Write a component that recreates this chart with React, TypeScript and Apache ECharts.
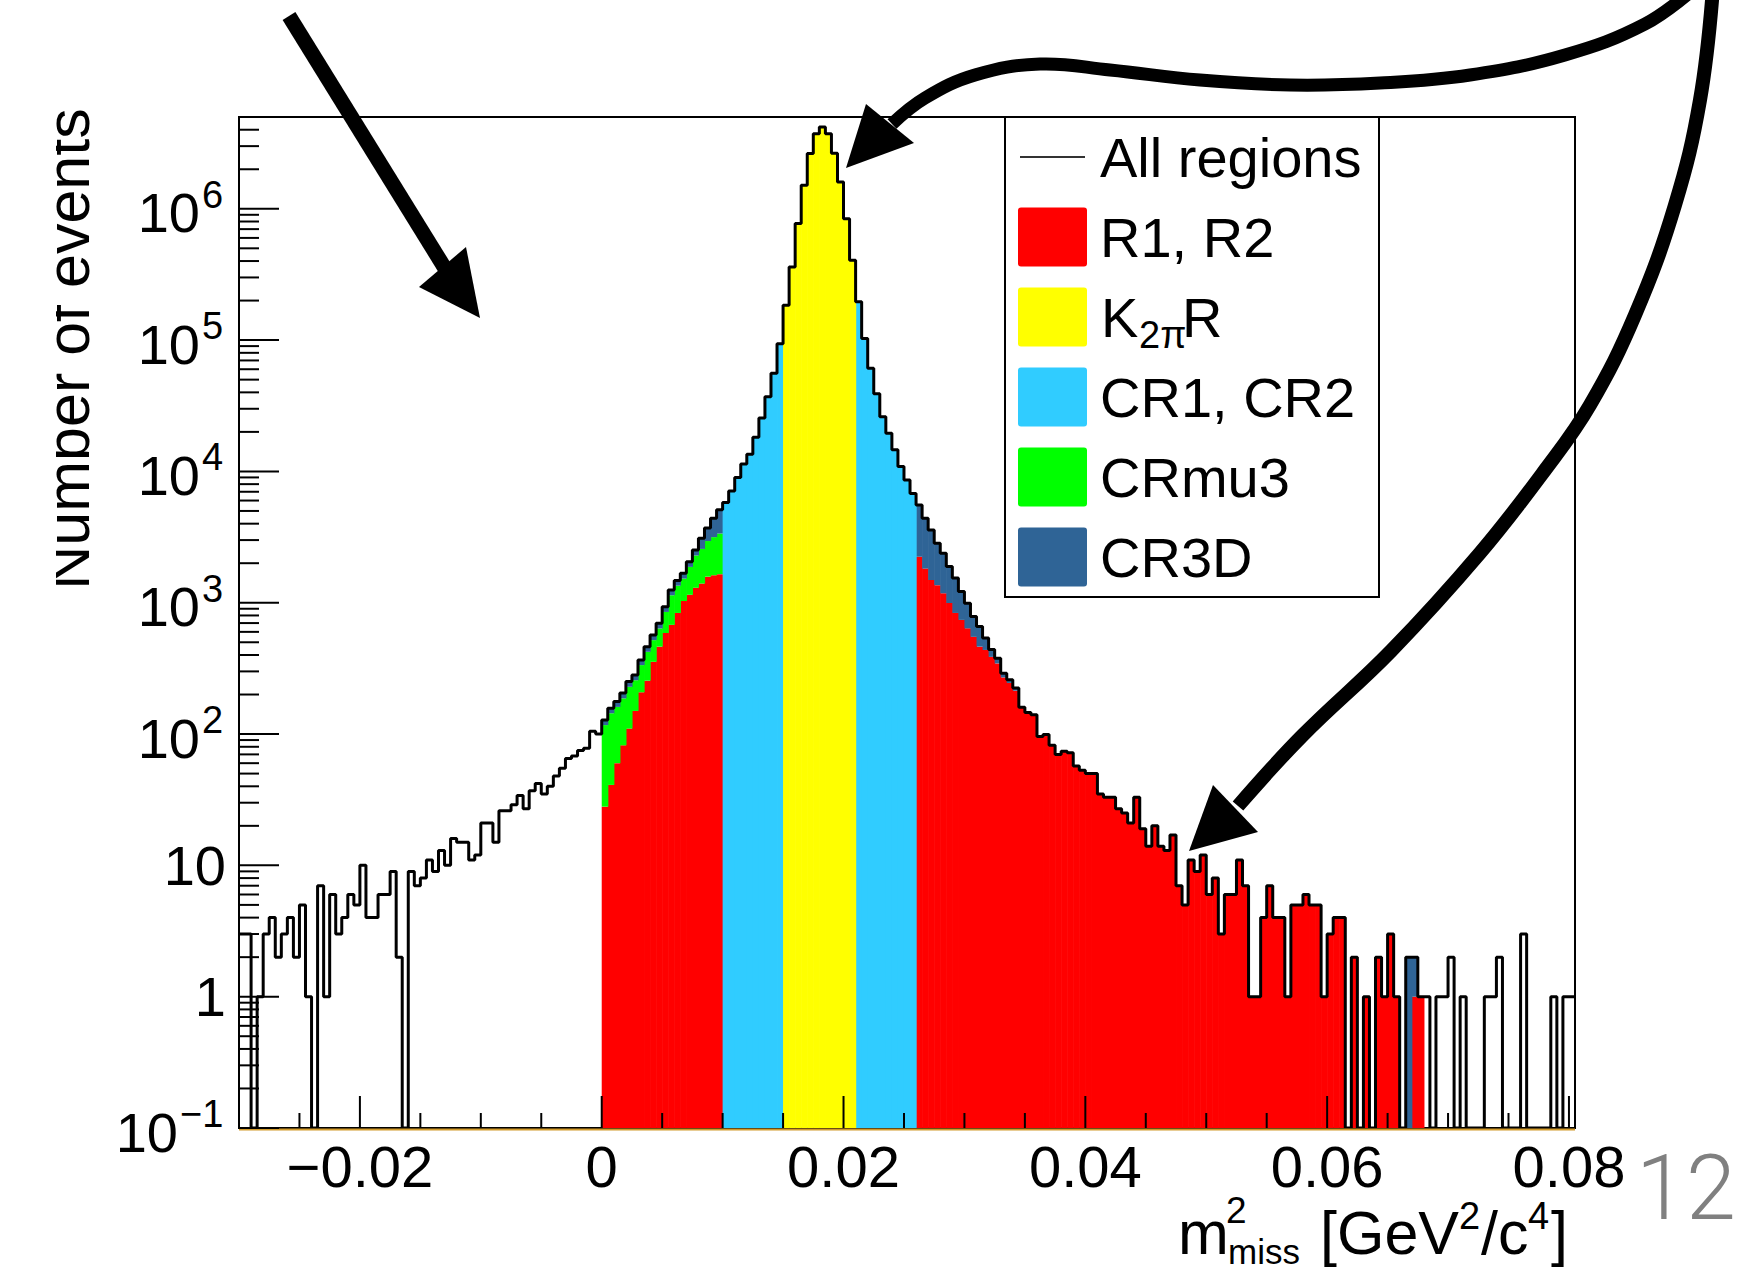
import React, { useEffect, useRef } from "react";
import * as echarts from "echarts";

// ---- axis ranges / binning ----
const X_MIN = -0.03;
const X_MAX = 0.0805;
const BIN_WIDTH = 0.0005;
const Y_MIN = 0.1;
const Y_MAX = 5e6;

// ---- "All regions" histogram (221 bins from -0.03, width 0.0005) ----
const ALL_REGIONS = [
  // -0.030 .. 0.000
  3, 3, 0, 1, 3, 4, 2, 3, 4, 2, 5, 1, 0, 7, 1, 6, 3, 4, 6, 5,
  10, 4, 4, 6, 6, 9, 2, 0, 9, 7, 8, 11, 9, 13, 10, 16, 15, 15, 11, 12,
  21, 21, 15, 26, 26, 29, 34, 27, 37, 42, 35, 40, 48, 55, 65, 68, 75, 78, 105, 100,
  // 0.000 .. 0.010 (R1)
  128, 157, 177, 205, 251, 282, 367, 463, 569, 698, 934, 1250, 1480, 1676, 2055, 2520, 3100, 3700, 4400, 5100,
  // 0.010 .. 0.015 (CR1)
  5800, 7100, 9000, 11400, 13500, 18200, 25500, 37000, 56000, 94000,
  // 0.015 .. 0.021 (K2piR)
  184600, 361000, 773000, 1510000, 2640000, 3720000, 4200000, 3720000, 2650000, 1600000, 840000, 406000,
  // 0.021 .. 0.026 (CR2)
  196000, 103000, 61000, 39000, 26100, 19500, 14600, 10900, 8600, 6800,
  // 0.026 .. 0.068 (R2)
  5550, 4390, 3580, 2840, 2380, 1890, 1540, 1220, 990, 785,
  660, 540, 440, 378, 290, 259, 224, 160, 146, 140,
  96, 99, 82, 70, 74, 72, 57, 53, 50, 50,
  35, 33, 33, 27, 25, 21, 33, 19, 14, 20,
  14, 13, 17, 7, 5, 11, 9, 12, 6, 8,
  3, 6, 6, 11, 7, 1, 1, 4, 7, 4,
  4, 1, 5, 5, 6, 5, 5, 1, 3, 4,
  4, 0, 2, 0, 1, 0, 2, 1, 3, 1,
  0, 2, 2, 1,
  // 0.068 .. 0.0805
  1, 0, 1, 1, 2, 0, 1, 0, 0, 0, 1, 1, 2, 0, 0, 0, 3, 0, 0, 0, 0, 1, 0, 1, 1,
];

// ---- region components ----
const R1_START = 60; // bin of m2 = 0
const R1_RED = [28, 41, 60, 82, 110, 150, 208, 255, 355, 463, 588, 679, 836, 1030, 1150, 1300, 1400, 1580, 1620, 1650];
const R1_CRMU3 = [89, 103, 101, 105, 119, 107, 127, 168, 164, 174, 263, 461, 513, 498, 725, 991, 1170, 1370, 1540, 1715];
const R1_CR3D = [11, 13, 16, 18, 22, 25, 32, 40, 50, 61, 83, 110, 131, 148, 180, 229, 530, 750, 1240, 1735];

const CR1_START = 80;
const CR1 = [5800, 7100, 9000, 11400, 13500, 18200, 25500, 37000, 56000, 94000];
const K2PI_START = 90;
const K2PI = [184600, 361000, 773000, 1510000, 2640000, 3720000, 4200000, 3720000, 2650000, 1600000, 840000, 406000];
const CR2_START = 102;
const CR2 = [196000, 103000, 61000, 39000, 26100, 19500, 14600, 10900, 8600, 6800];

const R2_START = 112;
const R2_RED = [
  2240, 1820, 1490, 1360, 1180, 995, 836, 740, 638, 550, 463, 437, 387, 345, 270, 245, 214,
  160, 146, 140, 96, 99, 82, 70, 74, 72, 57, 53, 50, 50, 35, 33, 33, 27, 25, 21, 33, 19, 14, 20,
  14, 13, 17, 7, 5, 11, 9, 12, 6, 8, 3, 6, 6, 11, 7, 1, 1, 4, 7, 4, 4, 1, 5, 5, 6, 5, 5, 1, 3, 4,
  4, 0, 2, 0, 1, 0, 2, 1, 3, 1, 0, 0, 1, 1,
];
const R2_CR3D = [
  3310, 2570, 2090, 1480, 1200, 895, 704, 480, 352, 235, 197, 103, 53, 33, 20, 14, 10,
  0, 0, 0, 0, 0, 0, 0, 0, 0, 0, 0, 0, 0, 0, 0, 0, 0, 0, 0, 0, 0, 0, 0,
  0, 0, 0, 0, 0, 0, 0, 0, 0, 0, 0, 0, 0, 0, 0, 0, 0, 0, 0, 0, 0, 0, 0, 0, 0, 0, 0, 0, 0, 0,
  0, 0, 0, 0, 0, 0, 0, 0, 0, 0, 0, 2, 1, 0,
];

// ---- ticks / labels ----
const X_MAJOR = [-0.02, 0, 0.02, 0.04, 0.06, 0.08];
const X_LABELS = ["\u22120.02", "0", "0.02", "0.04", "0.06", "0.08"];
const X_MINOR = [-0.025, -0.015, -0.01, -0.005, 0.005, 0.01, 0.015, 0.025, 0.03, 0.035, 0.045, 0.05, 0.055, 0.065, 0.07, 0.075];
const Y_DECADES = [-1, 0, 1, 2, 3, 4, 5, 6];

const COLORS = {
  red: "#ff0000",
  yellow: "#ffff00",
  cyan: "#30ccff",
  green: "#00ff00",
  blue: "#2f6496",
};

const LEGEND_ITEMS = [
  { name: "All regions", color: "" },
  { name: "R1, R2", color: COLORS.red },
  { name: "K2\u03c0R", color: COLORS.yellow },
  { name: "CR1, CR2", color: COLORS.cyan },
  { name: "CRmu3", color: COLORS.green },
  { name: "CR3D", color: COLORS.blue },
];

const FONT = '"Liberation Sans", Arial, Helvetica, sans-serif';

const binLo = (i: number) => X_MIN + i * BIN_WIDTH;

function stackItems(start: number, values: number[], bases: number[] | null) {
  const out: number[][] = [];
  values.forEach((v, j) => {
    const lo = bases ? bases[j] : 0;
    const hi = lo + v;
    if (v > 0 && hi > Y_MIN) out.push([binLo(start + j), binLo(start + j + 1), Math.max(lo, Y_MIN), hi]);
  });
  return out;
}

function fillSeries(name: string, color: string, data: number[][], z: number) {
  return {
    type: "custom",
    name,
    z,
    data,
    encode: { x: [0, 1], y: [2, 3] },
    renderItem: (_p: any, api: any) => {
      const a = api.coord([api.value(0), api.value(3)]);
      const b = api.coord([api.value(1), api.value(2)]);
      return {
        type: "rect",
        shape: { x: a[0], y: a[1], width: b[0] - a[0] + 0.6, height: b[1] - a[1] },
        style: { fill: color, stroke: null },
      };
    },
  };
}

function txt(x: number, y: number, text: string, fontSize: number, align = "left", extra: any = {}) {
  return {
    type: "text",
    x,
    y,
    z: 30,
    silent: true,
    ...extra,
    style: {
      text,
      fontSize,
      fontFamily: FONT,
      fill: extra.fill || "#000",
      align,
      textAlign: align,
      verticalAlign: "middle",
      textVerticalAlign: "middle",
      fontWeight: extra.fontWeight || "normal",
    },
  };
}

export default function App() {
  const ref = useRef<HTMLDivElement>(null);

  useEffect(() => {
    if (!ref.current) return;
    const chart = echarts.init(ref.current, null, { renderer: "svg" });

    const r1Green = R1_RED.map((v) => v);
    const r1Blue = R1_RED.map((v, j) => v + R1_CRMU3[j]);

    const outline = ALL_REGIONS.map((v, i) => [binLo(i), Math.max(v, Y_MIN)]);
    outline.push([X_MAX, Math.max(ALL_REGIONS[ALL_REGIONS.length - 1], Y_MIN)]);

    const grid = { left: 239, top: 117, width: 1336, height: 1011 };

    chart.setOption({
      animation: false,
      backgroundColor: "#ffffff",
      grid: { ...grid, show: true, borderColor: "#000", borderWidth: 2, backgroundColor: "transparent", containLabel: false },
      xAxis: {
        type: "value",
        min: X_MIN,
        max: X_MAX,
        axisLine: { show: false },
        axisTick: { show: false },
        axisLabel: { show: false },
        splitLine: { show: false },
      },
      yAxis: {
        type: "log",
        logBase: 10,
        min: Y_MIN,
        max: Y_MAX,
        axisLine: { show: false },
        axisTick: { show: false },
        axisLabel: { show: false },
        splitLine: { show: false },
      },
      series: [
        fillSeries("R1, R2", COLORS.red, [...stackItems(R1_START, R1_RED, null), ...stackItems(R2_START, R2_RED, null)], 2),
        fillSeries("CRmu3", COLORS.green, stackItems(R1_START, R1_CRMU3, r1Green), 2),
        fillSeries("CR3D", COLORS.blue, [...stackItems(R1_START, R1_CR3D, r1Blue), ...stackItems(R2_START, R2_CR3D, R2_RED)], 2),
        fillSeries("CR1, CR2", COLORS.cyan, [...stackItems(CR1_START, CR1, null), ...stackItems(CR2_START, CR2, null)], 2),
        fillSeries("K2\u03c0R", COLORS.yellow, stackItems(K2PI_START, K2PI, null), 2),
        {
          type: "line",
          name: "All regions",
          data: outline,
          step: "end",
          symbol: "none",
          showSymbol: false,
          z: 5,
          lineStyle: { color: "#000", width: 3 },
        },
      ],
    });

    const px = (x: number, y: number) => chart.convertToPixel({ gridIndex: 0 }, [x, y]) as number[];
    const left = px(X_MIN, 1)[0];
    const right = px(X_MAX, 1)[0];
    const bottom = px(0, Y_MIN)[1];

    const g: any[] = [];
    const tick = (x1: number, y1: number, x2: number, y2: number) =>
      g.push({ type: "line", z: 25, silent: true, shape: { x1, y1, x2, y2 }, style: { stroke: "#000", lineWidth: 2 } });

    // bottom coloured base line
    g.push({ type: "line", z: 24, silent: true, shape: { x1: left, y1: bottom + 1.5, x2: right, y2: bottom + 1.5 }, style: { stroke: "#d29a2a", lineWidth: 2 } });

    // x ticks + labels
    X_MAJOR.forEach((v, k) => {
      const x = px(v, 1)[0];
      tick(x, bottom, x, bottom - 32);
      g.push(txt(x, 1166, X_LABELS[k], 58, "center"));
    });
    X_MINOR.forEach((v) => {
      const x = px(v, 1)[0];
      tick(x, bottom, x, bottom - 15);
    });

    // y ticks + labels
    Y_DECADES.forEach((k) => {
      const y = px(0, Math.pow(10, k))[1];
      tick(left, y, left + 40, y);
      for (let m = 2; m <= 9; m++) {
        const v = m * Math.pow(10, k);
        if (v < Y_MAX) {
          const ym = px(0, v)[1];
          tick(left, ym, left + 20, ym);
        }
      }
      if (k === 0) g.push(txt(226, y, "1", 56, "right"));
      else if (k === 1) g.push(txt(226, y, "10", 56, "right"));
      else if (k === -1) {
        g.push(txt(178, y + 4, "10", 56, "right"));
        g.push(txt(180, y - 14, "\u22121", 38, "left"));
      } else {
        g.push(txt(200, y + 4, "10", 56, "right"));
        g.push(txt(202, y - 14, String(k), 38, "left"));
      }
    });

    // y axis title (partly cut on the left, as in the slide)
    g.push(txt(68, 349, "Number of events", 61, "center", { rotation: Math.PI / 2 }));
    g.push({ type: "rect", z: 40, silent: true, shape: { x: 0, y: 80, width: 56, height: 540 }, style: { fill: "#fff" } });

    // x axis title  m^2_miss [GeV^2/c^4]
    g.push(txt(1178, 1233, "m", 61, "left"));
    g.push(txt(1226, 1210, "2", 37, "left"));
    g.push(txt(1228, 1251, "miss", 35, "left"));
    g.push(txt(1320, 1233, "[GeV", 61, "left"));
    g.push(txt(1459, 1216, "2", 38, "left"));
    g.push(txt(1481, 1233, "/c", 61, "left"));
    g.push(txt(1528, 1216, "4", 38, "left"));
    g.push(txt(1551, 1233, "]", 61, "left"));

    // page number
    g.push({
      type: "text",
      x: 1686,
      y: 1188,
      z: 30,
      silent: true,
      style: {
        text: "12",
        fontSize: 90,
        fontFamily: "Roboto, " + FONT,
        fontWeight: 300,
        fill: "#808080",
        align: "center",
        textAlign: "center",
        verticalAlign: "middle",
        textVerticalAlign: "middle",
      },
    });

    // legend
    const lx = 1005, ly = 117, lw = 374, lh = 480;
    g.push({ type: "rect", z: 20, silent: true, shape: { x: lx, y: ly, width: lw, height: lh }, style: { fill: "#fff", stroke: "#000", lineWidth: 2 } });
    LEGEND_ITEMS.forEach((it, k) => {
      const cy = 157 + 80 * k;
      if (!it.color) {
        g.push({ type: "line", z: 21, silent: true, shape: { x1: 1020, y1: cy, x2: 1085, y2: cy }, style: { stroke: "#333", lineWidth: 2 } });
      } else {
        g.push({ type: "rect", z: 21, silent: true, shape: { x: 1018, y: cy - 29.5, width: 69, height: 59, r: 3 }, style: { fill: it.color } });
      }
      if (k === 2) {
        g.push(txt(1101, cy, "K", 56, "left"));
        g.push(txt(1139, cy + 18, "2\u03c0", 38, "left"));
        g.push(txt(1182, cy, "R", 56, "left"));
      } else {
        g.push(txt(1100, cy, it.name, 56, "left"));
      }
    });

    // annotation arrows
    const arrowStyle = { stroke: "#000", lineWidth: 15, lineCap: "butt", fill: null };
    g.push({ type: "line", z: 45, silent: true, shape: { x1: 289, y1: 16, x2: 446, y2: 270 }, style: arrowStyle });
    g.push({ type: "polygon", z: 45, silent: true, shape: { points: [[419, 287], [466, 247], [480, 318]] }, style: { fill: "#000" } });

    g.push({
      type: "polyline", z: 45, silent: true,
      shape: {
        smooth: 0.4,
        points: [[1695, -12], [1645, 24], [1565, 55], [1470, 75], [1380, 83], [1290, 85], [1200, 80], [1110, 70], [1040, 64], [975, 75], [925, 98], [892, 124]],
      },
      style: { stroke: "#000", lineWidth: 13, fill: null },
    });
    g.push({ type: "polygon", z: 45, silent: true, shape: { points: [[846, 168], [866, 104], [914, 143]] }, style: { fill: "#000" } });

    g.push({
      type: "polyline", z: 45, silent: true,
      shape: {
        smooth: 0.4,
        points: [[1713, -12], [1700, 100], [1675, 205], [1635, 315], [1590, 405], [1545, 470], [1480, 553], [1391, 651], [1302, 736], [1238, 806]],
      },
      style: { stroke: "#000", lineWidth: 14, fill: null },
    });
    g.push({ type: "polygon", z: 45, silent: true, shape: { points: [[1189, 851], [1213, 785], [1258, 832]] }, style: { fill: "#000" } });

    chart.setOption({ graphic: g });

    return () => chart.dispose();
  }, []);

  return (
    <div
      ref={ref}
      style={{ position: "absolute", left: 0, top: 0, width: 1742, height: 1269, background: "#fff" }}
    />
  );
}
